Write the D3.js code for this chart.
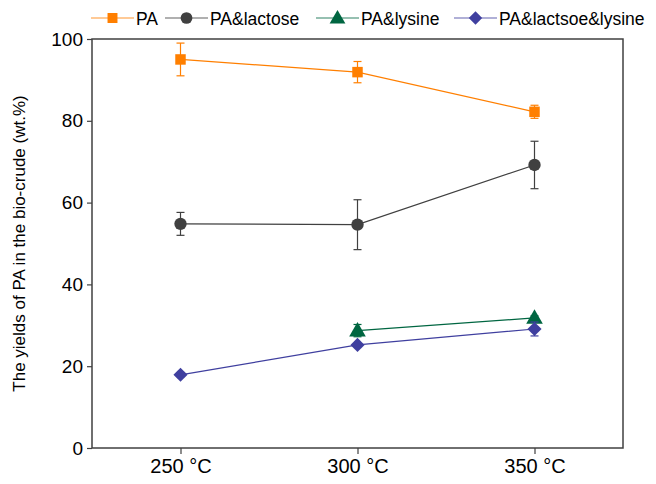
<!DOCTYPE html>
<html><head><meta charset="utf-8">
<script src="https://cdn.jsdelivr.net/npm/d3@7"></script>
<style>body{margin:0;background:#fff}text{font-family:"Liberation Sans",Arial,sans-serif}</style>
</head><body><svg id="c" width="656" height="484"></svg>
<script>
const categories = ["250 °C", "300 °C", "350 °C"];
const seriesNames = ["PA", "PA&lactose", "PA&lysine", "PA&lactsoe&lysine"];
const seriesColors = ["#ff7f00", "#404040", "#006641", "#3f3f9f"];
const seriesSymbols = ["square", "circle", "triangle", "diamond"];
const paValues = [95.0, 91.9, 82.2];
const paErrors = [4.0, 2.6, 1.6];
const lactoseValues = [54.8, 54.6, 69.2];
const lactoseErrors = [2.8, 6.1, 5.8];
const lysineValues = [null, 28.7, 31.8];
const lysineErrors = [null, 1.5, 0.5];
const lacLysValues = [17.9, 25.2, 29.1];
const lacLysErrors = [0, 0, 1.7];
const yTicks = [0, 20, 40, 60, 80, 100];

const values = [paValues, lactoseValues, lysineValues, lacLysValues];
const errors = [paErrors, lactoseErrors, lysineErrors, lacLysErrors];

const svg = d3.select("#c");
const m = {l: 92, r: 623, t: 39, b: 448};
const x = d3.scalePoint().domain(categories).range([m.l, m.r]).padding(0.5);
const y = d3.scaleLinear().domain([0, 100]).range([m.b, m.t]);
const axisColor = "#404040";

svg.append("rect").attr("x", m.l).attr("y", m.t).attr("width", m.r - m.l).attr("height", m.b - m.t)
  .attr("fill", "none").attr("stroke", axisColor).attr("stroke-width", 1.5);

const ya = svg.append("g").attr("transform", `translate(${m.l},0)`)
  .call(d3.axisLeft(y).tickValues(yTicks).tickSize(5).tickPadding(4));
const xa = svg.append("g").attr("transform", `translate(0,${m.b})`)
  .call(d3.axisBottom(x).tickSize(6).tickPadding(5));
[ya, xa].forEach(a => {
  a.select(".domain").remove();
  a.selectAll("line").attr("stroke", axisColor).attr("stroke-width", 1.2);
  a.selectAll("text").attr("fill", "#000");
});
ya.selectAll("text").style("font-size", "19px");
xa.selectAll("text").style("font-size", "20px");

svg.append("text").attr("transform", `translate(25,${(m.t + m.b) / 2}) rotate(-90)`)
  .attr("text-anchor", "middle").style("font-size", "17px").text("The yields of PA in the bio-crude (wt.%)");

const symType = {square: d3.symbolSquare, circle: d3.symbolCircle, triangle: d3.symbolTriangle, diamond: d3.symbolSquare};
const symSize = {square: 110, circle: 120, triangle: 120, diamond: 100};
const symRot = {square: 0, circle: 0, triangle: 0, diamond: 45};
const symDy = {square: 0, circle: 0, triangle: 1, diamond: 0};

values.forEach((vals, si) => {
  const col = seriesColors[si];
  const pts = categories.map((c, i) => ({c, v: vals[i], e: errors[si][i]})).filter(p => p.v != null);
  svg.append("path").datum(pts).attr("fill", "none").attr("stroke", col).attr("stroke-width", 1.2)
    .attr("d", d3.line().x(p => x(p.c)).y(p => y(p.v)));
  const g = svg.append("g");
  pts.filter(p => p.e > 0).forEach(p => {
    const cx = x(p.c);
    g.append("line").attr("x1", cx).attr("x2", cx).attr("y1", y(p.v + p.e)).attr("y2", y(p.v - p.e)).attr("stroke", col).attr("stroke-width", 1.2);
    [p.v + p.e, p.v - p.e].forEach(vv => g.append("line").attr("x1", cx - 4).attr("x2", cx + 4).attr("y1", y(vv)).attr("y2", y(vv)).attr("stroke", col).attr("stroke-width", 1.2));
  });
  const s = seriesSymbols[si];
  g.selectAll(".pt").data(pts).join("path")
    .attr("transform", p => `translate(${x(p.c)},${y(p.v) + symDy[s]}) rotate(${symRot[s]})`)
    .attr("d", d3.symbol().type(symType[s]).size(symSize[s])).attr("fill", col);
});

const legX = [91, 165, 316, 454];
seriesNames.forEach((n, si) => {
  const col = seriesColors[si];
  const s = seriesSymbols[si];
  const g = svg.append("g").attr("transform", `translate(${legX[si]},18)`);
  g.append("line").attr("x1", 0).attr("x2", 43).attr("stroke", col).attr("stroke-opacity", 0.55).attr("stroke-width", 1.5);
  g.append("path").attr("transform", `translate(21.5,${symDy[s]}) rotate(${symRot[s]})`)
    .attr("d", d3.symbol().type(symType[s]).size(symSize[s] * 0.9)).attr("fill", col);
  g.append("text").attr("x", 45).attr("y", 6.5).style("font-size", "17.5px").text(n);
});
</script></body></html>
